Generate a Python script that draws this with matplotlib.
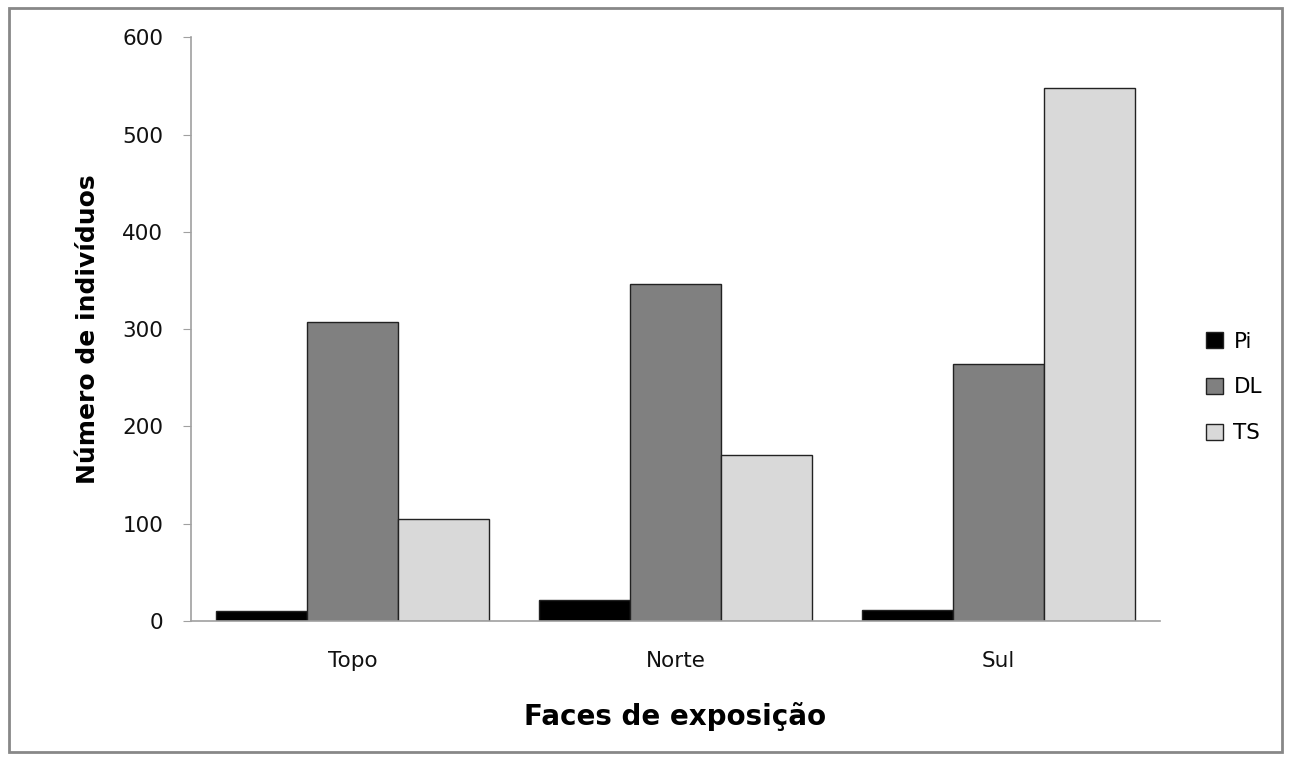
import numpy as np
import matplotlib
matplotlib.use("Agg")
import matplotlib.pyplot as plt
from matplotlib.patches import Rectangle

categories = ["Topo", "Norte", "Sul"]
series = ["Pi", "DL", "TS"]
pi_vals = [10, 21, 11]
dl_vals = [307, 346, 264]
ts_vals = [105, 171, 548]
colors = ["#000000", "#808080", "#d9d9d9"]

plt.rcParams['font.family'] = ['DejaVu Sans']

fig = plt.figure(figsize=(12.91, 7.6), dpi=100)
ax = fig.add_axes([0.148, 0.183, 0.7505, 0.768])

x = np.arange(len(categories))
w = 0.282
for i, (vals, name) in enumerate(zip([pi_vals, dl_vals, ts_vals], series)):
    ax.bar(x + (i - 1) * w, vals, w, color=colors[i], edgecolor="#222222",
           linewidth=1, label=name)

ax.set_xlim(-0.5, 2.5)
ax.set_ylim(0, 600)
ax.set_yticks(range(0, 601, 100))
ax.set_xticks(x)
ax.set_xticklabels(categories)
ax.tick_params(axis="x", length=0, pad=22, labelsize=15.5, labelcolor="#111111")
ax.tick_params(axis="y", length=6, color="#a0a0a0", pad=14, labelsize=15.5,
               labelcolor="#111111")
for s in ["top", "right"]:
    ax.spines[s].set_visible(False)
for s in ["left", "bottom"]:
    ax.spines[s].set_color("#a0a0a0")
    ax.spines[s].set_linewidth(1.2)

ax.set_xlabel("Faces de exposição", fontsize=20, fontweight="bold", labelpad=22)
ax.set_ylabel("Número de indivíduos", fontsize=18, fontweight="bold", labelpad=16)

ax.legend(loc="center left", bbox_to_anchor=(1.028, 0.40), frameon=False,
          fontsize=15.5, handlelength=0.75, handleheight=0.75, labelspacing=1.2,
          handletextpad=0.5)

fig.patches.append(Rectangle((9 / 1291, 8 / 760), 1 - 18 / 1291, 1 - 16 / 760,
                             transform=fig.transFigure, fill=False,
                             edgecolor="#888888", linewidth=2))

fig.savefig("out.png", dpi=100)
